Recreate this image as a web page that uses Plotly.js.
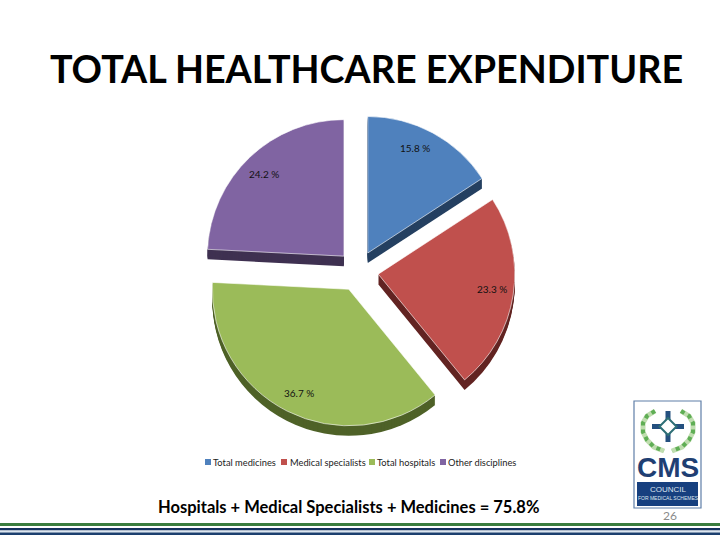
<!DOCTYPE html>
<html><head><meta charset="utf-8"><script src="https://cdn.plot.ly/plotly-3.0.1.min.js"></script>
<style>html,body{margin:0;padding:0;background:#fff}</style></head><body><div id="c" style="width:720px;height:540px"></div>
<script>
const categories=["Total medicines","Medical specialists","Total hospitals","Other disciplines"];
const shares=[15.8,23.3,36.7,24.2];
const sliceColors=["#4F81BD","#C0504D","#9BBB59","#8064A2"];
const sideColors=["#254061","#632523","#4F6228","#3F3151"];
const pulls=[0.15,0.15,0.15,0.15];
const labelAngleNudge=[-3.5,-1,-1,-0.5];
const legendSwatchX=[205,281,369,440];
const legendTextX=[211,288,375,446];
const titleText="<b>TOTAL HEALTHCARE EXPENDITURE</b>";
const captionText="<b>Hospitals + Medical Specialists + Medicines = 75.8%</b>";
const W=720,H=540,cx=358,cy=271,size=314,depth=10;
function dom(dy){return {x:[(cx-size/2)/W,(cx+size/2)/W],y:[1-(cy+dy+size/2)/H,1-(cy+dy-size/2)/H]};}
const traces=[];
for(let d=depth;d>=1;d-=1){traces.push({type:'pie',labels:categories,values:shares,sort:false,direction:'clockwise',rotation:0,pull:pulls,domain:dom(d),textinfo:'none',hoverinfo:'skip',showlegend:false,marker:{colors:sideColors,line:{width:0}}});}
traces.push({type:'pie',labels:categories,values:shares,sort:false,direction:'clockwise',rotation:0,pull:pulls,domain:dom(0),textinfo:'none',showlegend:false,marker:{colors:sliceColors,line:{color:'#fff',width:0.6}}});
const R=size/2/1.15;let acc=0;const total=shares.reduce((a,b)=>a+b,0);
const txt=(x,y,t,s,c,fam,xa)=>({xref:'paper',yref:'paper',x:x/W,y:1-y/H,text:t,showarrow:false,xanchor:xa||'center',yanchor:'middle',font:{family:fam||'Lato, sans-serif',size:s,color:c}});
const ann=shares.map((v,i)=>{const a=(acc+v/2)/total*2*Math.PI+labelAngleNudge[i]*Math.PI/180;acc+=v;const r=R*pulls[i]+R*0.84;
 return txt(cx+r*Math.sin(a),cy-r*Math.cos(a),v.toFixed(1)+' %',10,'#111');});
categories.forEach((c,i)=>ann.push(txt(legendTextX[i],462,c,9.3,'#222',null,'left')));
ann.push(txt(348,507,captionText,16.5,'#000'));
ann.push(txt(670,515,'26',12,'#8a8a8a'));
const NARROW='"Liberation Sans Narrow", "Liberation Sans", sans-serif';
ann.push(txt(668,467,'<b>CMS</b>',28,'#1F3F73',NARROW));
ann.push(txt(668,489,'COUNCIL',8,'#dfe6f0','Liberation Sans, sans-serif'));
ann.push(txt(668,498,'FOR MEDICAL SCHEMES',5,'#dfe6f0','Liberation Sans, sans-serif'));
const px=(x0,y0,x1,y1,fill,line,layer)=>({type:'rect',xref:'paper',yref:'paper',x0:x0/W,x1:x1/W,y0:1-y0/H,y1:1-y1/H,fillcolor:fill,line:line||{width:0},layer:layer||'below'});
const poly=(pts,c,w,dash,fill)=>({type:'path',xref:'paper',yref:'paper',path:pts.map((p,i)=>(i?'L':'M')+(p[0]/W)+','+(1-p[1]/H)).join(' ')+(fill?' Z':''),line:{color:c,width:w,dash:dash||'solid'},fillcolor:fill||'rgba(0,0,0,0)',layer:'above'});
const shapes=[
 px(0,523,720,526,'#3A7D3E'),px(0,528,720,530.5,'#14305C'),px(0,530.5,720,532.5,'#DCE6F0'),px(0,532.5,720,535,'#1B3F6E'),
 px(634,401,701,508,'#ffffff',{color:'#5F7FA8',width:1.2}),
 px(637,482,698,506,'#17407F'),
 poly([[655,411],[647,416],[643,423],[643,432],[647,440],[654,447],[664,451]],'#BFDDAF',5),
 poly([[655,411],[647,416],[643,423],[643,432],[647,440],[654,447],[664,451]],'#5FAE55',4,'dot'),
 poly([[681,411],[689,416],[693,423],[693,432],[689,440],[682,447],[672,451]],'#BFDDAF',5),
 poly([[681,411],[689,416],[693,423],[693,432],[689,440],[682,447],[672,451]],'#5FAE55',4,'dot'),
 poly([[668,411],[668,442]],'#24507F',5),poly([[652,426.5],[684,426.5]],'#24507F',5),
 poly([[668,418],[676.5,426.5],[668,435],[659.5,426.5]],'#2E6F76',2,null,'#ffffff')
];
Plotly.newPlot('c',traces,{width:W,height:H,margin:{l:0,r:0,t:0,b:0},paper_bgcolor:'#fff',showlegend:false,
 title:{text:titleText,font:{family:'Lato, sans-serif',size:37.7,color:'#000'},x:366.5/W,xanchor:'center',y:1-69.5/H,yanchor:'middle'},
 annotations:ann,shapes:shapes.concat(categories.map((c,i)=>px(legendSwatchX[i],459,legendSwatchX[i]+6,465,sliceColors[i])))},{staticPlot:true,displayModeBar:false});
</script></body></html>
